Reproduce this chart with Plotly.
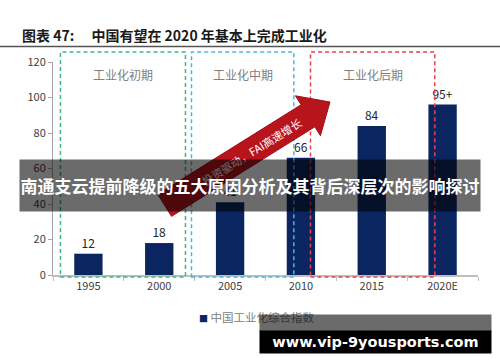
import math
import plotly.graph_objects as go

# ---- data ----
years = ["1995", "2000", "2005", "2010", "2015", "2020E"]
index_values = [12, 18, 41, 66, 84, 96]
value_labels = ["12", "18", "41", "66", "84", "95+"]
stage_names = ["工业化初期", "工业化中期", "工业化后期"]
series_name = "中国工业化综合指数"
y_ticks = [0, 20, 40, 60, 80, 100, 120]
title_text = "图表 47:　 中国有望在 2020 年基本上完成工业化"
arrow_text = "投资驱动，FAI高速增长"
overlay_text = "南通支云提前降级的五大原因分析及其背后深层次的影响探讨"
site_text = "www.vip-9yousports.com"

W, H = 500, 362
L, R, T, B = 53, 22, 62, 87
PW, PH = W - L - R, H - T - B


def px(x):
    return (x - L) / PW


def py(y):
    return (H - B - y) / PH


FONT = "Noto Sans CJK SC"
NAVY = "#0b2560"

fig = go.Figure()
fig.add_trace(go.Bar(
    x=years, y=index_values, name=series_name, showlegend=False,
    text=value_labels, textposition="outside", cliponaxis=False,
    textfont=dict(size=12, color="#262626", family=FONT),
    marker=dict(color=NAVY, line=dict(width=0)), width=0.4,
))

shapes = []
# title underline
shapes.append(dict(type="line", xref="paper", yref="paper", x0=px(0), x1=px(500),
                   y0=py(46.5), y1=py(46.5), line=dict(color="#555555", width=1.5)))
# stage boxes (category units)
boxes = [(-0.395, 1.37, "#3dba7e"), (1.455, 2.9, "#45b8e0"), (3.135, 4.89, "#e8414d")]
for (a, b, c) in boxes:
    shapes.append(dict(type="rect", xref="x", yref="paper", x0=a, x1=b,
                       y0=py(277), y1=py(52), layer="above",
                       line=dict(color=c, width=1.5, dash="4px,3px"), fillcolor="rgba(0,0,0,0)"))

# arrow polygon (pixel geometry -> paper)
ang = math.radians(32)
ux, uy = math.cos(ang), -math.sin(ang)
vx, vy = math.sin(ang), math.cos(ang)
Tx, Ty = 330, 102
hl, hw, sw, Ltot = 26, 23.5, 13, 195
Bx, By = Tx - hl * ux, Ty - hl * uy
Cx, Cy = Tx - Ltot * ux, Ty - Ltot * uy
pts = [
    (Cx - sw * vx, Cy - sw * vy),
    (Bx - sw * vx, By - sw * vy),
    (Bx - hw * vx, By - hw * vy),
    (Tx, Ty),
    (Bx + hw * vx, By + hw * vy),
    (Bx + sw * vx, By + sw * vy),
    (Cx + sw * vx, Cy + sw * vy),
]
path = "M " + " L ".join(f"{px(x):.5f},{py(y):.5f}" for x, y in pts) + " Z"
shapes.append(dict(type="path", xref="paper", yref="paper", path=path, layer="above",
                   fillcolor="#b8141c", line=dict(color="#a01018", width=1)))

annotations = []
annotations.append(dict(xref="paper", yref="paper", x=px(20), y=py(35), xanchor="left", yanchor="middle",
                        text="<b>" + title_text + "</b>", showarrow=False,
                        font=dict(size=14, color="#1a1a1a", family=FONT)))
for (a, b, c), name in zip(boxes, stage_names):
    annotations.append(dict(xref="x", yref="paper", x=(a + b) / 2, y=py(64), text=name,
                            showarrow=False, font=dict(size=12, color="#808080", family=FONT)))
tc = 92
annotations.append(dict(xref="paper", yref="paper", x=px(Tx - tc * ux), y=py(Ty - tc * uy),
                        text=arrow_text, textangle=-32, showarrow=False,
                        font=dict(size=11, color="#ffffff", family=FONT)))
# legend (drawn as text so the marker and spacing match)
annotations.append(dict(xref="paper", yref="paper", x=px(197), y=py(317), xanchor="left", yanchor="middle",
                        text=f"<span style='color:{NAVY};font-size:9px'>■</span> {series_name}",
                        showarrow=False, font=dict(size=11.5, color="#808080", family=FONT)))
# overlay band with headline
annotations.append(dict(xref="paper", yref="paper", x=px(250), y=py(185.5), xanchor="center", yanchor="middle",
                        text="<b>" + overlay_text + "</b>", showarrow=False, width=460, height=51, borderpad=0,
                        bgcolor="rgba(0,0,0,0.58)", font=dict(size=17, color="#ffffff", family=FONT)))
# bottom site watermark
annotations.append(dict(xref="paper", yref="paper", x=px(375.5), y=py(323), xanchor="center", yanchor="middle",
                        text=" ", showarrow=False, width=231, height=16, borderpad=0,
                        bgcolor="rgba(0,0,0,0.58)", font=dict(size=10)))
annotations.append(dict(xref="paper", yref="paper", x=px(375.5), y=py(342), xanchor="center", yanchor="middle",
                        text="<b>" + site_text + "</b>", showarrow=False, width=231, height=22, borderpad=0,
                        bgcolor="#000000", font=dict(size=14.5, color="#ffffff", family="DejaVu Sans")))

fig.update_layout(
    width=W, height=H, margin=dict(l=L, r=R, t=T, b=B, pad=0),
    paper_bgcolor="white", plot_bgcolor="white",
    font=dict(family=FONT, color="#404040"),
    showlegend=False,
    shapes=shapes, annotations=annotations,
    bargap=0.6,
)
fig.update_yaxes(range=[0, 120], tickvals=y_ticks, showgrid=False, zeroline=False,
                 showline=True, linecolor="#a6a6a6", linewidth=1, ticks="outside", ticklen=4,
                 tickcolor="#a6a6a6", tickfont=dict(size=11, color="#404040"))
fig.update_xaxes(showgrid=False, showline=True, linecolor="#bfbfbf", linewidth=1.5, ticks="outside",
                 tickson="boundaries", ticklen=4, tickcolor="#bfbfbf",
                 tickfont=dict(size=11, color="#404040"))

fig.write_html("out.html", config={"displayModeBar": False},
               post_script="document.body.style.margin='0';")
